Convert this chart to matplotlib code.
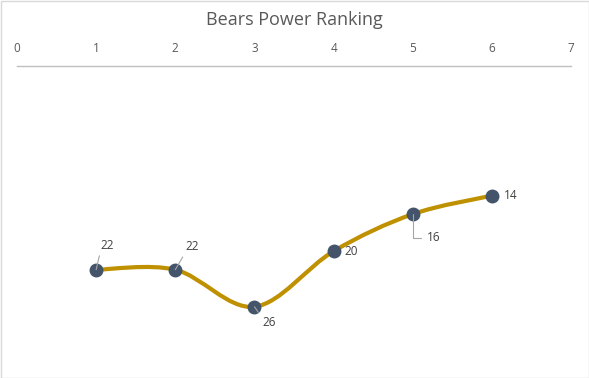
import numpy as np
import matplotlib.pyplot as plt
from matplotlib.path import Path
from matplotlib.patches import PathPatch, Rectangle

# Datos del ranking
weeks = [1, 2, 3, 4, 5, 6]
ranks = [22, 22, 26, 20, 16, 14]
x_ticks = [0, 1, 2, 3, 4, 5, 6, 7]
title = "Bears Power Ranking"

# desplazamiento de etiquetas (puntos)
label_offsets = [(3, 13), (7, 12), (6, -11), (8, 0), (10, -17), (9, 0)]

line_color = "#BF9000"
marker_color = "#44546A"
text_color = "#595959"

plt.rcParams['font.family'] = ['Open Sans', 'DejaVu Sans']

fig = plt.figure(figsize=(5.89, 3.78), dpi=100)
ax = fig.add_axes([17 / 589, 1 - 366 / 378, 554 / 589, 300 / 378])

# Curva suavizada tipo Excel (Bezier con tangentes Catmull-Rom)
pts = np.column_stack([weeks, ranks]).astype(float)
verts = [pts[0]]
codes = [Path.MOVETO]
for i in range(len(pts) - 1):
    p0 = pts[max(i - 1, 0)]
    p1 = pts[i]
    p2 = pts[i + 1]
    p3 = pts[min(i + 2, len(pts) - 1)]
    c1 = p1 + (p2 - p0) / 6
    c2 = p2 - (p3 - p1) / 6
    verts += [c1, c2, p2]
    codes += [Path.CURVE4] * 3
ax.add_patch(PathPatch(Path(verts, codes), facecolor="none",
                       edgecolor=line_color, lw=3, zorder=2, capstyle="round"))

ax.plot(weeks, ranks, "o", color=marker_color, ms=9, zorder=3)

for (x, y, off) in zip(weeks, ranks, label_offsets):
    if off[1] == 0:
        ax.annotate(str(y), (x, y), xytext=off, textcoords="offset points",
                    ha="left", va="center", fontsize=8.5, color="#404040")
    elif off[1] > 0:
        ax.annotate(str(y), (x, y), xytext=off, textcoords="offset points",
                    ha="left", va="bottom", fontsize=8.5, color="#404040",
                    arrowprops=dict(arrowstyle="-", color="#A6A6A6", lw=0.8,
                                    shrinkA=1, shrinkB=0, relpos=(0, 0)))
    else:
        ax.annotate(str(y), (x, y), xytext=off, textcoords="offset points",
                    ha="left", va="center", fontsize=8.5, color="#404040",
                    arrowprops=dict(arrowstyle="-", color="#A6A6A6", lw=0.8,
                                    shrinkA=2, shrinkB=0, relpos=(0, 0.5),
                                    connectionstyle="angle,angleA=0,angleB=%d" % (-55 if x == 3 else -90)))

ax.set_xlim(0, 7)
ax.set_ylim(32.4, 0)
ax.xaxis.tick_top()
ax.set_xticks(x_ticks)
ax.tick_params(axis="x", length=0, pad=8, labelsize=8.5, labelcolor=text_color)
ax.set_yticks([])
for s in ["left", "right", "bottom"]:
    ax.spines[s].set_visible(False)
ax.spines["top"].set_color("#BFBFBF")
ax.spines["top"].set_linewidth(1)

fig.text(0.5, 1 - 20 / 378, title, ha="center", va="center",
         fontsize=13, color=text_color)

fig.patches.append(Rectangle((0.5 / 589, 0.5 / 378), 1 - 1 / 589, 1 - 1 / 378,
                             transform=fig.transFigure, fill=False,
                             edgecolor="#D9D9D9", lw=1))

fig.savefig("out.png", dpi=100)
